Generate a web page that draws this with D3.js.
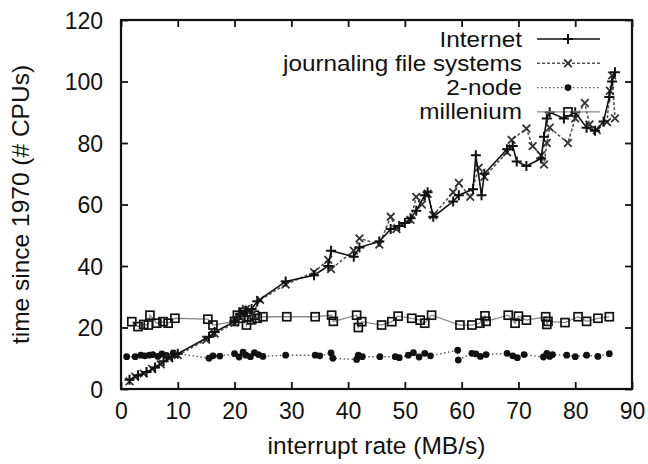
<!DOCTYPE html>
<html><head><meta charset="utf-8">
<script src="https://cdn.jsdelivr.net/npm/d3@7/dist/d3.min.js"></script>
<style>
html,body{margin:0;padding:0;background:#fff;}
text{font-family:"Liberation Sans",Arial,Helvetica,sans-serif;fill:#111;}
</style></head>
<body>
<svg id="c" width="648" height="464"></svg>
<script>
const xTicks = [0,10,20,30,40,50,60,70,80,90];
const yTicks = [0,20,40,60,80,100,120];
const xLabel = "interrupt rate (MB/s)";
const yLabel = "time since 1970 (# CPUs)";
const seriesNames = ["Internet","journaling file systems","2-node","millenium"];

const internetX = [1.5,3,4.5,6,7.5,9,10,15.5,16.5,20,21,22,23,24,29,34,36.5,37,41,42,45.5,47.5,49,50,51,52,53.5,54,55,58.5,59.5,62,62.5,63.5,64,68,69,69.7,71.4,74,74.5,75,75.5,78,80,82,83.5,85,86,86.5,87];
const internetY = [3,4.5,5.5,7,9,10.5,11.5,17,18.5,22,24.5,25.5,26,28.5,35,37,40,45,43,46,48,52,53,54,55.5,58,63,64,56,61,63,65,76,63,70,78,79,74,72.5,75,82,88,90,88,90,85,84,87,95,100,103];

const journalX = [1.5,2.5,4,5.5,7,8.5,10,15,16.5,20,21,22,23,24.5,29,34,36.5,37,41,42,45.5,47.5,48.5,51,52,53,54,55,58.5,59.5,61.5,63,64,68,68.8,71.4,72.5,74,74.5,75,75.5,78.7,80,81.7,82.5,83.8,85.6,86.1,86.5,87];
const journalY = [2.5,4,5,6.5,8,10,11,16,18,21.5,23.5,26,24,29,34,38,42,39,45,49,47,56,52,55,62.5,60,63.5,56.5,64,67,62.5,72,69,77,81,84.7,79,76,73,80,85,80,88,93,86,84.2,86.8,97,102,88];

const nodeX = [1,2.5,3.5,4.2,5,5.6,6.5,7.2,8,9.2,15.5,16.2,17.4,20,20.8,21.5,22,22.8,23.5,24.2,25,29,34.2,35,37,37.3,41.5,41.8,42.5,45.6,48.3,49,50.6,51.5,52.5,53.5,54.5,59.3,59.4,61.8,62.5,63.3,64.3,68,69,69.8,71,74.4,75,75.5,76,78.5,80,82,84,86];
const nodeY = [10.5,10.5,11,10.8,11,11.2,10.6,11.4,10.9,11.7,10,10.8,10.7,11.5,10.4,12,11,10.5,11.8,11.2,10.6,11,11,10.8,11.7,10,9.6,11,10.5,10.5,10.5,10.2,11,11.8,10.4,11.6,10.8,12.6,9.4,11.6,11.4,10.6,11.2,11.6,10.8,10.2,11.2,10.4,11.6,10.6,11.2,11,10.5,11,10.6,11.5];

const millX = [1.9,3,4,4.8,5.1,6.3,7.4,8.3,9.5,15.3,16.2,20,20.5,21,21.5,22.1,22.5,23,23.5,24,25,29.2,34.2,37.1,37.4,41.5,41.8,42.4,45.9,47.7,48.8,51.2,52.7,53.5,54.7,59.7,61.8,63.2,64.1,64.3,68.2,69.4,70,71.4,74.8,75,75.2,78.2,80.5,82,84,86];
const millY = [21.9,20.3,21,20.8,24,21.4,21.9,21.4,23,22.7,20.8,22,24,23,25,20.8,23.5,22.5,24,23,23.5,23.5,23.5,24,22,24,20,21.9,20.8,21.9,23.7,23,22.4,21.4,24,20.8,20.8,21.4,23.8,22,24,21.4,23.7,22.4,23.5,21,22,21.6,23.5,22,23,23.5];

const svg = d3.select("#c");
const L=121, R=632, T=20, B=389;
const x = d3.scaleLinear().domain([0,90]).range([L,R]);
const y = d3.scaleLinear().domain([0,120]).range([B,T]);

const tk = 7;
const gb = svg.append("g").attr("transform",`translate(0,${B})`)
  .call(d3.axisBottom(x).tickValues(xTicks).tickSize(-tk).tickPadding(14).tickFormat(d3.format("d")));
const gt = svg.append("g").attr("transform",`translate(0,${T})`)
  .call(d3.axisTop(x).tickValues(xTicks).tickSize(-tk).tickFormat(""));
const gl = svg.append("g").attr("transform",`translate(${L},0)`)
  .call(d3.axisLeft(y).tickValues(yTicks).tickSize(-tk).tickPadding(18).tickFormat(d3.format("d")));
const gr = svg.append("g").attr("transform",`translate(${R},0)`)
  .call(d3.axisRight(y).tickValues(yTicks).tickSize(-tk).tickFormat(""));
[gb,gt,gl,gr].forEach(g=>{
  g.select(".domain").remove();
  g.selectAll(".tick line").attr("stroke","#111").attr("stroke-width",1.8);
  g.selectAll(".tick text").attr("font-size",23).attr("fill","#111")
   .attr("font-family","'Liberation Sans',Arial,sans-serif");
});
gl.selectAll(".tick text").attr("dy","0.36em");

svg.append("rect").attr("x",L).attr("y",T).attr("width",R-L).attr("height",B-T)
  .attr("fill","none").attr("stroke","#111").attr("stroke-width",2.2);

svg.append("text").attr("x",(L+R)/2).attr("y",454).attr("text-anchor","middle")
  .attr("font-size",24.5).text(xLabel);
svg.append("text").attr("transform",`translate(29,${(T+B)/2}) rotate(-90)`)
  .attr("text-anchor","middle").attr("font-size",24.5).text(yLabel);

function plus(g,px,py,s){g.append("path").attr("d",`M${px-s},${py}H${px+s}M${px},${py-s}V${py+s}`).attr("stroke","#111").attr("stroke-width",2).attr("fill","none");}
function cross(g,px,py,s){g.append("path").attr("d",`M${px-s},${py-s}L${px+s},${py+s}M${px-s},${py+s}L${px+s},${py-s}`).attr("stroke","#333").attr("stroke-width",1.8).attr("fill","none");}
function dot(g,px,py,s){g.append("circle").attr("cx",px).attr("cy",py).attr("r",s).attr("fill","#111");}
function square(g,px,py,s){g.append("rect").attr("x",px-s).attr("y",py-s).attr("width",2*s).attr("height",2*s).attr("fill","none").attr("stroke","#111").attr("stroke-width",1.7);}

const series = [
  {xs:millX, ys:millY, stroke:"#8a8a8a", dash:null, w:1.3, mk:square, ms:4},
  {xs:nodeX, ys:nodeY, stroke:"#555", dash:"1.5,2.5", w:1.4, mk:dot, ms:3.4},
  {xs:journalX, ys:journalY, stroke:"#555", dash:"3,2", w:1.6, mk:cross, ms:3.8},
  {xs:internetX, ys:internetY, stroke:"#111", dash:null, w:1.6, mk:plus, ms:5},
];
const line = d3.line().x(d=>x(d[0])).y(d=>y(d[1]));
series.forEach(s=>{
  const pts = s.xs.map((v,i)=>[v,s.ys[i]]);
  const g = svg.append("g");
  g.append("path").datum(pts).attr("d",line).attr("fill","none")
   .attr("stroke",s.stroke).attr("stroke-width",s.w).attr("stroke-dasharray",s.dash);
  pts.forEach(p=>s.mk(g,x(p[0]),y(p[1]),s.ms));
});

const legOrder = [series[3],series[2],series[1],series[0]];
const legY0 = 39, legDy = 24.3;
legOrder.forEach((s,i)=>{
  const ly = legY0 + i*legDy;
  const t = svg.append("text").attr("x",522).attr("y",ly).attr("dy","0.35em").attr("text-anchor","end")
    .attr("font-size",21.5).text(seriesNames[i]);
  const w = t.node().getComputedTextLength();
  t.attr("textLength", w*1.13).attr("lengthAdjust","spacingAndGlyphs");
  const g = svg.append("g");
  g.append("line").attr("x1",537).attr("x2",600).attr("y1",ly).attr("y2",ly)
    .attr("stroke",s.stroke).attr("stroke-width",s.w).attr("stroke-dasharray",s.dash);
  s.mk(g,568,ly,s.ms);
});
</script>
</body></html>
